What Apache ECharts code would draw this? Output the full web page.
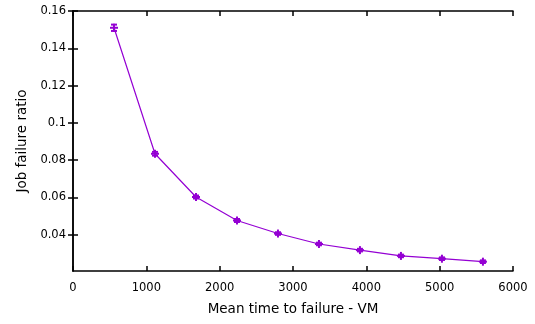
<!DOCTYPE html>
<html><head><meta charset="utf-8">
<script src="https://cdn.jsdelivr.net/npm/echarts@6/dist/echarts.min.js"></script>
<style>html,body{margin:0;padding:0;background:#fff}#c{width:535px;height:324px}</style>
</head><body><div id="c"></div>
<script>
const xValues = [559, 1118, 1677, 2236, 2795, 3354, 3913, 4472, 5031, 5590];
const yValues = [0.1510, 0.0834, 0.0602, 0.0476, 0.0406, 0.0350, 0.0317, 0.0286, 0.0271, 0.0255];
const yErrors = [0.0017, 0.0010, 0.0008, 0.0008, 0.0007, 0.0007, 0.0007, 0.0007, 0.0007, 0.0007];
const xTicks = [0, 1000, 2000, 3000, 4000, 5000, 6000];
const yTicks = [0.04, 0.06, 0.08, 0.10, 0.12, 0.14, 0.16];

const color = '#9400D3';
const font = 'DejaVu Sans';
const chart = echarts.init(document.getElementById('c'));
const pts = xValues.map((x, i) => [x, yValues[i], yErrors[i]]);
const fmtY = v => String(+(+v).toFixed(2));
const fmtX = v => String(Math.round(v));

const axisCommon = {
  axisLine: {show: true, lineStyle: {color: '#000', width: 1.5}},
  axisTick: {show: true, inside: true, length: 5, lineStyle: {color: '#000', width: 1.5}},
  splitLine: {show: false}
};

chart.setOption({
  animation: false,
  grid: {left: 73, right: 22, top: 11, bottom: 53},
  xAxis: [
    Object.assign({type: 'value', min: 0, max: 6000, position: 'bottom',
      name: 'Mean time to failure - VM', nameLocation: 'middle', nameGap: 31,
      nameTextStyle: {fontFamily: font, fontSize: 13.5, color: '#000'},
      axisLabel: {fontFamily: font, fontSize: 11.5, color: '#000', margin: 11,
        customValues: xTicks, formatter: fmtX}}, axisCommon,
      {axisTick: {show: true, inside: true, length: 5, customValues: xTicks, lineStyle: {color: '#000', width: 1.5}}}),
    Object.assign({type: 'value', min: 0, max: 6000, position: 'top',
      axisLabel: {show: false}}, axisCommon,
      {axisTick: {show: true, inside: true, length: 5, customValues: xTicks, lineStyle: {color: '#000', width: 1.5}}})
  ],
  yAxis: [
    Object.assign({type: 'value', min: 0.0205, max: 0.16, position: 'left',
      name: 'Job failure ratio', nameLocation: 'middle', nameGap: 44,
      nameTextStyle: {fontFamily: font, fontSize: 13.5, color: '#000'},
      axisLabel: {fontFamily: font, fontSize: 11.5, color: '#000', margin: 7,
        customValues: yTicks, formatter: fmtY}}, axisCommon,
      {axisTick: {show: true, inside: true, length: 5, customValues: yTicks, lineStyle: {color: '#000', width: 1.5}}}),
    Object.assign({type: 'value', min: 0.0205, max: 0.16, position: 'right',
      axisLabel: {show: false}}, axisCommon,
      {axisTick: {show: true, inside: true, length: 5, customValues: yTicks, lineStyle: {color: '#000', width: 1.5}}})
  ],
  series: [
    {type: 'line', data: pts.map(p => [p[0], p[1]]), symbol: 'none',
      lineStyle: {color: color, width: 1.2}, z: 2},
    {type: 'custom', data: pts, z: 3,
      renderItem: function (params, api) {
        const x = api.value(0), y = api.value(1), e = api.value(2);
        const c = api.coord([x, y]);
        const top = api.coord([x, y + e]);
        const bot = api.coord([x, y - e]);
        const s = {stroke: color, lineWidth: 2};
        const hw = 3;
        return {type: 'group', children: [
          {type: 'line', shape: {x1: c[0], y1: top[1], x2: c[0], y2: bot[1]}, style: s},
          {type: 'line', shape: {x1: c[0] - hw, y1: top[1], x2: c[0] + hw, y2: top[1]}, style: s},
          {type: 'line', shape: {x1: c[0] - hw, y1: bot[1], x2: c[0] + hw, y2: bot[1]}, style: s},
          {type: 'line', shape: {x1: c[0] - 4, y1: c[1], x2: c[0] + 4, y2: c[1]}, style: s},
          {type: 'line', shape: {x1: c[0], y1: c[1] - 4, x2: c[0], y2: c[1] + 4}, style: s}
        ]};
      }}
  ]
});
</script></body></html>
